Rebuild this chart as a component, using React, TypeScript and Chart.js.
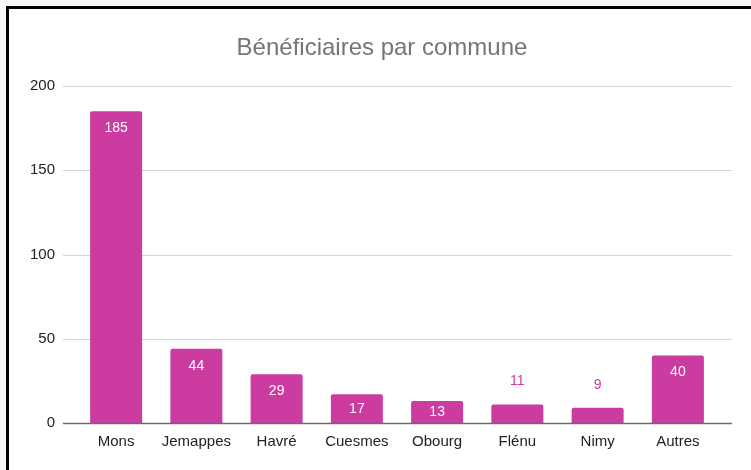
import React, { useEffect, useRef } from "react";
import { Chart, registerables } from "chart.js";

Chart.register(...registerables);

const categories = ["Mons", "Jemappes", "Havré", "Cuesmes", "Obourg", "Flénu", "Nimy", "Autres"];
const values = [185, 44, 29, 17, 13, 11, 9, 40];
const yTicks = [0, 50, 100, 150, 200];
const TITLE = "Bénéficiaires par commune";

const BAR = "#cc3ba0";
const FONT = "Arial, 'Liberation Sans', sans-serif";

const gridPlugin = {
  id: "extGrid",
  beforeDatasetsDraw(chart: any) {
    const { ctx, chartArea, scales } = chart;
    const y = scales.y;
    ctx.save();
    yTicks.forEach((t) => {
      if (t === 0) return;
      const py = Math.round(y.getPixelForValue(t)) + 0.5;
      ctx.beginPath();
      ctx.strokeStyle = "#d4d4d4";
      ctx.lineWidth = 1;
      ctx.moveTo(chartArea.left - 13, py);
      ctx.lineTo(chartArea.right + 14, py);
      ctx.stroke();
    });
    ctx.restore();
  },
  afterDatasetsDraw(chart: any) {
    const { ctx, scales } = chart;
    const y = scales.y;
    const py = Math.round(y.getPixelForValue(0)) + 0.5;
    ctx.save();
    ctx.beginPath();
    ctx.strokeStyle = "#6b6b6b";
    ctx.lineWidth = 1.5;
    ctx.moveTo(chart.chartArea.left - 13, py);
    ctx.lineTo(chart.chartArea.right + 14, py);
    ctx.stroke();

    const meta = chart.getDatasetMeta(0);
    ctx.font = "14px " + FONT;
    ctx.textAlign = "center";
    ctx.textBaseline = "middle";
    meta.data.forEach((bar: any, i: number) => {
      const v = values[i];
      const top = bar.y;
      const bottom = bar.base;
      const h = bottom - top;
      if (h > 20) {
        ctx.fillStyle = "#ffffff";
        ctx.fillText(String(v), bar.x, Math.min(top + 17, (top + bottom) / 2));
      } else {
        ctx.fillStyle = BAR;
        ctx.fillText(String(v), bar.x, top - 23);
      }
    });

    // title
    ctx.font = "24px " + FONT;
    ctx.fillStyle = "#757575";
    ctx.textAlign = "center";
    ctx.textBaseline = "middle";
    ctx.fillText(TITLE, (chart.width + 13) / 2, 48);
    ctx.restore();
  },
};

export default function App() {
  const ref = useRef<HTMLCanvasElement>(null);
  useEffect(() => {
    const chart = new Chart(ref.current!, {
      type: "bar",
      data: {
        labels: categories,
        datasets: [
          {
            data: values,
            backgroundColor: BAR,
            barPercentage: 0.648,
            categoryPercentage: 1,
            borderRadius: { topLeft: 2, topRight: 2, bottomLeft: 0, bottomRight: 0 },
            borderSkipped: "start",
          },
        ],
      },
      options: {
        animation: false,
        responsive: false,
        maintainAspectRatio: false,
        layout: { padding: { left: 0, right: 33, top: 86, bottom: 0 } },
        plugins: {
          legend: { display: false },
          tooltip: { enabled: false },
          title: { display: false },
        },
        scales: {
          x: {
            grid: { display: false, drawTicks: false },
            border: { display: false },
            ticks: { color: "#222222", font: { family: FONT, size: 15 }, padding: 10, maxRotation: 0 },
            afterFit: (s: any) => {
              s.height = 47;
            },
          },
          y: {
            min: 0,
            max: 200,
            grid: { display: false, drawTicks: false },
            border: { display: false },
            ticks: { stepSize: 50, color: "#222222", font: { family: FONT, size: 15 }, padding: 21 },
            afterFit: (s: any) => {
              s.width = 76;
            },
          },
        },
      },
      plugins: [gridPlugin],
    });
    return () => chart.destroy();
  }, []);

  return (
    <div style={{ position: "fixed", left: 0, top: 0, width: 751, height: 470, background: "#f7f7f7", overflow: "hidden" }}>
      <div
        style={{
          position: "absolute",
          left: 6,
          top: 6,
          width: 800,
          height: 500,
          borderLeft: "3px solid #000",
          borderTop: "3px solid #000",
          background: "#ffffff",
        }}
      />
      <canvas ref={ref} width={751} height={470} style={{ position: "absolute", left: 0, top: 0, width: 751, height: 470 }} />
    </div>
  );
}
